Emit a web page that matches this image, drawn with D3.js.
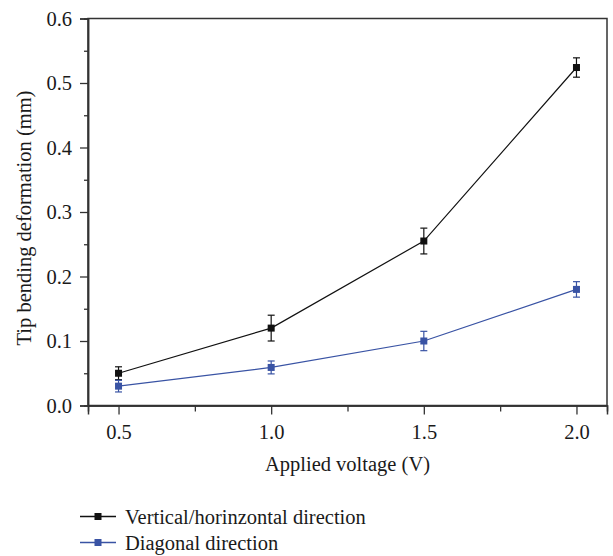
<!DOCTYPE html>
<html>
<head>
<meta charset="utf-8">
<script src="https://cdn.jsdelivr.net/npm/d3@7"></script>
<style>
  body { margin: 0; background: #fff; }
  text { font-family: "Liberation Serif", "Times New Roman", serif; fill: #1a1a1a; }
</style>
</head>
<body>
<div id="chart"></div>
<script>
// frame constants
const FRAME_WIDTH = 613;
const FRAME_HEIGHT = 556;
const MARGINS = {left: 88, right: 6, top: 18.5, bottom: 150.5};

const VIS_WIDTH = FRAME_WIDTH - MARGINS.left - MARGINS.right;
const VIS_HEIGHT = FRAME_HEIGHT - MARGINS.top - MARGINS.bottom;

// data
const voltage = [0.5, 1.0, 1.5, 2.0];
const vertical = [0.05, 0.12, 0.255, 0.524];
const verticalErr = [0.01, 0.02, 0.02, 0.015];
const diagonal = [0.03, 0.059, 0.1, 0.18];
const diagonalErr = [0.009, 0.01, 0.015, 0.012];

const xTicks = [0.5, 1.0, 1.5, 2.0];
const xMinor = [0.75, 1.25, 1.75];
const yTicks = [0.0, 0.1, 0.2, 0.3, 0.4, 0.5, 0.6];
const yMinor = [0.05, 0.15, 0.25, 0.35, 0.45, 0.55];

const seriesNames = ["Vertical/horinzontal direction", "Diagonal direction"];
const seriesColors = ["#111111", "#3953a4"];

const series = [
  {name: seriesNames[0], color: seriesColors[0], vals: vertical, errs: verticalErr},
  {name: seriesNames[1], color: seriesColors[1], vals: diagonal, errs: diagonalErr}
];

const FRAME = d3.select("#chart")
  .append("svg")
  .attr("width", FRAME_WIDTH)
  .attr("height", FRAME_HEIGHT);

const X_SCALE = d3.scaleLinear().domain([0.4, 2.1]).range([0, VIS_WIDTH]);
const Y_SCALE = d3.scaleLinear().domain([0, 0.6]).range([VIS_HEIGHT, 0]);

const g = FRAME.append("g")
  .attr("transform", `translate(${MARGINS.left},${MARGINS.top})`);

// box
g.append("rect")
  .attr("width", VIS_WIDTH)
  .attr("height", VIS_HEIGHT)
  .attr("fill", "none")
  .attr("stroke", "#333")
  .attr("stroke-width", 1.5);

// x axis, major + minor
g.append("g")
  .attr("transform", `translate(0,${VIS_HEIGHT})`)
  .call(d3.axisBottom(X_SCALE).tickValues(xTicks).tickSize(9).tickPadding(10)
    .tickFormat(d3.format(".1f")));
g.append("g")
  .attr("transform", `translate(0,${VIS_HEIGHT})`)
  .call(d3.axisBottom(X_SCALE).tickValues(xMinor).tickSize(6).tickFormat(""));

// y axis, major + minor
g.append("g")
  .call(d3.axisLeft(Y_SCALE).tickValues(yTicks).tickSize(8).tickPadding(8)
    .tickFormat(d3.format(".1f")));
g.append("g")
  .call(d3.axisLeft(Y_SCALE).tickValues(yMinor).tickSize(4).tickFormat(""));

g.selectAll(".domain").attr("stroke", "#333").attr("stroke-width", 1.5);
g.selectAll(".tick line").attr("stroke", "#333").attr("stroke-width", 1.3);
g.selectAll(".tick text")
  .style("font-family", "'Liberation Serif', serif")
  .style("font-size", "20.5px")
  .attr("fill", "#1a1a1a");

// lines, error bars, markers
const line = d3.line()
  .x((d, i) => X_SCALE(voltage[i]))
  .y(d => Y_SCALE(d));

series.forEach(s => {
  g.append("path")
    .datum(s.vals)
    .attr("fill", "none")
    .attr("stroke", s.color)
    .attr("stroke-width", 1.2)
    .attr("d", line);

  const eb = g.selectAll(null)
    .data(s.vals.map((v, i) => ({x: voltage[i], y: v, e: s.errs[i]})))
    .enter()
    .append("g")
    .attr("stroke", s.color)
    .attr("stroke-width", 1.2);
  eb.append("line")
    .attr("x1", d => X_SCALE(d.x)).attr("x2", d => X_SCALE(d.x))
    .attr("y1", d => Y_SCALE(d.y - d.e)).attr("y2", d => Y_SCALE(d.y + d.e));
  eb.append("line")
    .attr("x1", d => X_SCALE(d.x) - 3.5).attr("x2", d => X_SCALE(d.x) + 3.5)
    .attr("y1", d => Y_SCALE(d.y + d.e)).attr("y2", d => Y_SCALE(d.y + d.e));
  eb.append("line")
    .attr("x1", d => X_SCALE(d.x) - 3.5).attr("x2", d => X_SCALE(d.x) + 3.5)
    .attr("y1", d => Y_SCALE(d.y - d.e)).attr("y2", d => Y_SCALE(d.y - d.e));

  g.selectAll(null)
    .data(s.vals)
    .enter()
    .append("rect")
    .attr("x", (d, i) => X_SCALE(voltage[i]) - 3.5)
    .attr("y", d => Y_SCALE(d) - 3.5)
    .attr("width", 7)
    .attr("height", 7)
    .attr("fill", s.color);
});

// axis titles
FRAME.append("text")
  .attr("x", MARGINS.left + VIS_WIDTH / 2)
  .attr("y", 471)
  .attr("text-anchor", "middle")
  .style("font-size", "20.5px")
  .text("Applied voltage (V)");

FRAME.append("text")
  .attr("transform", `translate(31,${MARGINS.top + VIS_HEIGHT / 2 + 6}) rotate(-90)`)
  .attr("text-anchor", "middle")
  .style("font-size", "20.5px")
  .text("Tip bending deformation (mm)");

// legend
const legend = FRAME.append("g");
series.forEach((s, i) => {
  const ly = 516.5 + i * 26;
  legend.append("line")
    .attr("x1", 80).attr("x2", 116)
    .attr("y1", ly).attr("y2", ly)
    .attr("stroke", s.color)
    .attr("stroke-width", 1.3);
  legend.append("rect")
    .attr("x", 98 - 3.5).attr("y", ly - 3.5)
    .attr("width", 7).attr("height", 7)
    .attr("fill", s.color);
  legend.append("text")
    .attr("x", 125).attr("y", ly + 7)
    .style("font-size", "20.5px")
    .text(s.name);
});
</script>
</body>
</html>
